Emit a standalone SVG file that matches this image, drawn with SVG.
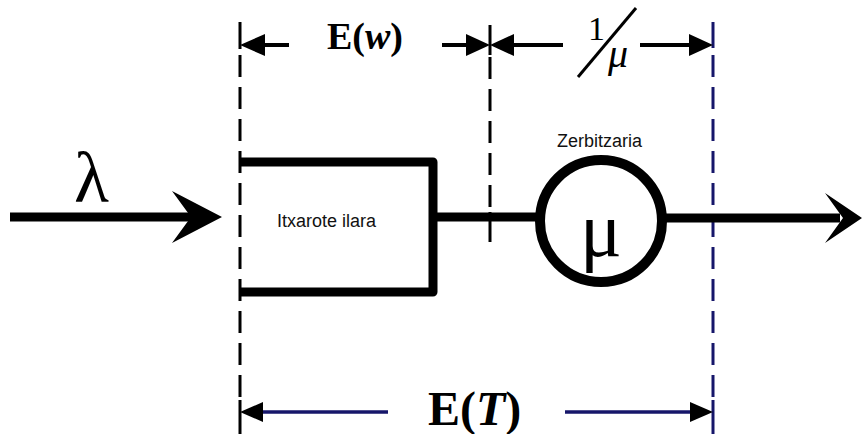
<svg xmlns="http://www.w3.org/2000/svg" width="862" height="434" viewBox="0 0 862 434">
<style>
.thick{stroke:#000;stroke-width:9;fill:none}
.dash{stroke:#000;stroke-width:3;stroke-dasharray:22 10;fill:none}
.dashb{stroke:#16166a;stroke-width:3;stroke-dasharray:22 10;fill:none}
.tick{stroke:#000;stroke-width:3}
.tickb{stroke:#16166a;stroke-width:3}
.dim{stroke:#000;stroke-width:4}
.dimb{stroke:#16166a;stroke-width:3.5}
.serif{font-family:"Liberation Serif","Times New Roman",serif}
.sans{font-family:"Liberation Sans",Arial,sans-serif;font-size:18px;fill:#111}
.head{fill:#000}
</style>
<rect width="862" height="434" fill="#fff"/>
<g id="guides">
<line class="tick" x1="240" y1="22" x2="240" y2="49"/>
<line class="dash" x1="240" y1="55" x2="240" y2="402"/>
<line class="tick" x1="240" y1="400" x2="240" y2="434"/>
<line class="tick" x1="490" y1="25" x2="490" y2="55"/>
<line class="dash" x1="490" y1="57" x2="490" y2="212"/>
<line class="tick" x1="490" y1="212" x2="490" y2="242"/>
<line class="tickb" x1="713" y1="22" x2="713" y2="48"/>
<line class="dashb" x1="713" y1="55" x2="713" y2="402"/>
<line class="tickb" x1="713" y1="400" x2="713" y2="434"/>
</g>
<g id="queue">
<path class="thick" d="M240,162 H433 V292 H240" stroke-linejoin="round"/>
<text class="sans" x="277" y="227">Itxarote ilara</text>
</g>
<g id="server">
<circle cx="601" cy="221" r="61" fill="#fff" stroke="#000" stroke-width="10"/>
<text class="serif" x="601" y="256" font-size="78" text-anchor="middle">μ</text>
<text class="sans" x="557" y="147">Zerbitzaria</text>
</g>
<g id="connectors">
<line class="thick" x1="10" y1="217" x2="195" y2="217"/>
<path class="head" d="M222,217 L172,191 L191,217 L172,243 Z"/>
<line class="thick" x1="433" y1="217" x2="540" y2="217"/>
<line class="thick" x1="662" y1="218" x2="840" y2="218"/>
<path class="head" d="M862,218 L825,193 L843,218 L825,243 Z"/>
</g>
<g id="dimensions">
<line class="dim" x1="250" y1="45" x2="289" y2="45"/>
<path class="head" d="M240,45 L265,34 L265,56 Z"/>
<line class="dim" x1="442" y1="45" x2="475" y2="45"/>
<path class="head" d="M490,45 L466,34 L466,56 Z"/>
<line class="dim" x1="505" y1="45" x2="563" y2="45"/>
<path class="head" d="M490,45 L514,34 L514,56 Z"/>
<line class="dim" x1="640" y1="45" x2="700" y2="45"/>
<path class="head" d="M713,45 L689,34 L689,56 Z"/>
<line class="dimb" x1="250" y1="412" x2="388" y2="412"/>
<path class="head" d="M240,412 L263,402 L263,422 Z"/>
<line class="dimb" x1="565" y1="412" x2="700" y2="412"/>
<path class="head" d="M713,412 L690,402 L690,422 Z"/>
<text class="serif" x="327" y="49" font-size="38" font-weight="bold">E(<tspan font-style="italic">w</tspan>)</text>
<text class="serif" x="428" y="425" font-size="48" font-weight="bold">E(<tspan font-style="italic">T</tspan>)</text>
<text class="serif" x="588" y="40" font-size="34">1</text>
<line x1="578" y1="77" x2="636" y2="8" stroke="#000" stroke-width="3"/>
<text class="serif" x="608" y="67" font-size="40" font-style="italic">μ</text>
<text class="serif" x="74" y="202" font-size="72">λ</text>
</g>
</svg>
